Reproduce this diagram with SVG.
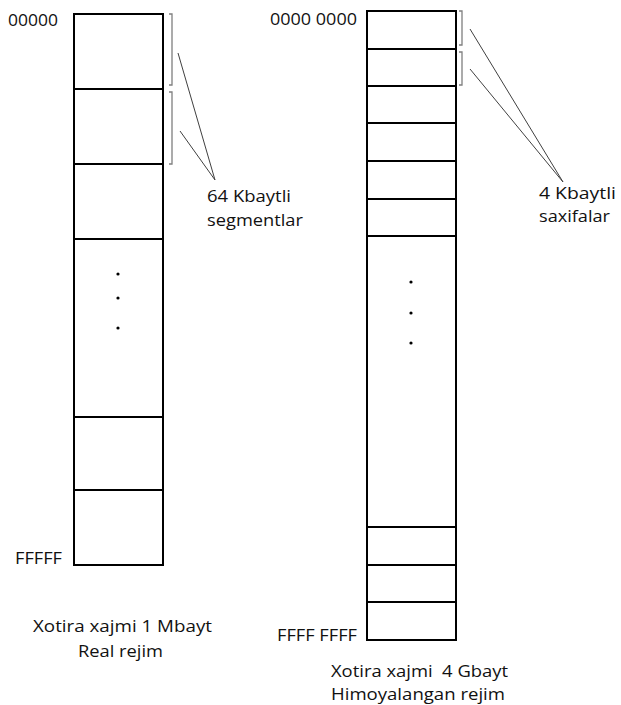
<svg xmlns="http://www.w3.org/2000/svg" width="621" height="705" viewBox="0 0 621 705">
<style>
.box{fill:#fff;stroke:#000;stroke-width:2}
.div{stroke:#000;stroke-width:2}
.br{fill:none;stroke:#7f7f7f;stroke-width:1.3}
.ld{stroke:#404040;stroke-width:1}
.t{font-family:"Open Sans","Liberation Sans",sans-serif;font-size:17px;fill:#111;white-space:pre}
.dot{fill:#000}
</style>
<rect width="621" height="705" fill="#fff"/>
<g id="real-mode-memory">
<rect class="box" x="74" y="14" width="89" height="551"/>
<path class="div" d="M74,89H163M74,164H163M74,239H163M74,417H163M74,490H163"/>
<circle class="dot" cx="118" cy="274" r="1.6"/>
<circle class="dot" cx="118" cy="298" r="1.6"/>
<circle class="dot" cx="118" cy="328" r="1.6"/>
<text class="t" x="8" y="26" textLength="50" lengthAdjust="spacingAndGlyphs">00000</text>
<text class="t" x="15" y="564" textLength="47" lengthAdjust="spacingAndGlyphs">FFFFF</text>
<text class="t" x="33" y="632" textLength="179" lengthAdjust="spacingAndGlyphs">Xotira xajmi 1 Mbayt</text>
<text class="t" x="78" y="657" textLength="85" lengthAdjust="spacingAndGlyphs">Real rejim</text>
</g>
<g id="protected-mode-memory">
<rect class="box" x="367" y="11" width="89" height="629"/>
<path class="div" d="M367,49H456M367,86H456M367,123H456M367,161H456M367,199H456M367,236H456M367,527H456M367,565H456M367,602H456"/>
<circle class="dot" cx="411" cy="282" r="1.6"/>
<circle class="dot" cx="411" cy="313" r="1.6"/>
<circle class="dot" cx="411" cy="343" r="1.6"/>
<text class="t" x="270" y="25" textLength="87" lengthAdjust="spacingAndGlyphs">0000 0000</text>
<text class="t" x="277" y="641" textLength="80" lengthAdjust="spacingAndGlyphs">FFFF FFFF</text>
<text class="t" x="331" y="677" textLength="177" lengthAdjust="spacingAndGlyphs">Xotira xajmi  4 Gbayt</text>
<text class="t" x="331" y="700" textLength="174" lengthAdjust="spacingAndGlyphs">Himoyalangan rejim</text>
</g>
<g id="segments-label">
<path class="br" d="M169,14H172V85H169M169,92H172V164H169"/>
<text class="t" x="207" y="202" textLength="84" lengthAdjust="spacingAndGlyphs">64 Kbaytli</text>
<text class="t" x="207" y="226" textLength="96" lengthAdjust="spacingAndGlyphs">segmentlar</text>
</g>
<g id="pages-label">
<path class="br" d="M459,11H462V45H459M459,52H462V85H459"/>
<text class="t" x="539" y="199" textLength="77" lengthAdjust="spacingAndGlyphs">4 Kbaytli</text>
<text class="t" x="539" y="222" textLength="71" lengthAdjust="spacingAndGlyphs">saxifalar</text>
</g>
<g id="connectors">
<line class="ld" x1="178" y1="53" x2="215" y2="180"/>
<line class="ld" x1="180" y1="131" x2="215" y2="180"/>
<line class="ld" x1="470" y1="29" x2="563" y2="182"/>
<line class="ld" x1="470" y1="69" x2="563" y2="182"/>
</g>
</svg>
